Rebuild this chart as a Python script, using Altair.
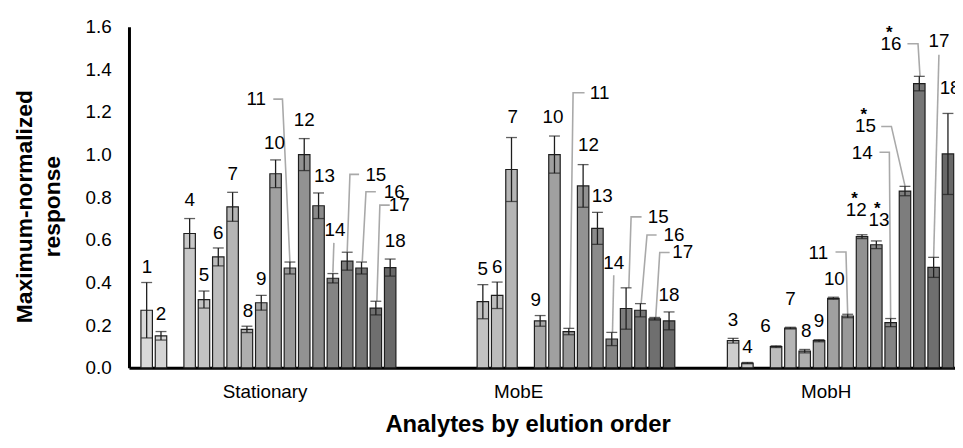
import altair as alt
import pandas as pd

# ---------------- data ----------------
GROUPS = ["Stationary", "MobE", "MobH"]
ANALYTES = list(range(1, 19))

STAT_VALS = [0.27, 0.15, None, 0.63, 0.32, 0.52, 0.755, 0.18, 0.305, 0.91, 0.468, 1.00, 0.76, 0.42, 0.50, 0.468, 0.28, 0.47]
STAT_ERRS = [0.13, 0.02, None, 0.07, 0.04, 0.042, 0.068, 0.015, 0.035, 0.065, 0.028, 0.075, 0.06, 0.022, 0.042, 0.028, 0.032, 0.04]

MOBE_VALS = [None, None, None, None, 0.31, 0.34, 0.93, None, 0.22, 1.00, 0.17, 0.853, 0.654, 0.135, 0.278, 0.27, 0.23, 0.22]
MOBE_ERRS = [None, None, None, None, 0.08, 0.062, 0.15, None, 0.025, 0.087, 0.015, 0.10, 0.075, 0.031, 0.097, 0.031, 0.006, 0.042]

MOBH_VALS = [None, None, 0.127, 0.022, None, 0.099, 0.186, 0.078, 0.127, 0.326, 0.243, 0.615, 0.577, 0.212, 0.829, 1.333, 0.471, 1.003]
MOBH_ERRS = [None, None, 0.011, 0.003, None, 0.004, 0.004, 0.008, 0.005, 0.005, 0.008, 0.009, 0.018, 0.019, 0.022, 0.034, 0.047, 0.19]

SERIES = [(STAT_VALS, STAT_ERRS), (MOBE_VALS, MOBE_ERRS), (MOBH_VALS, MOBH_ERRS)]

# bar labels: (group index, analyte, dx in bar slots, label height, asterisk)
LABELS = [
    (0, 1, 0.03, 0.474, False), (0, 2, 0.0, 0.251, False), (0, 4, 0.0, 0.786, False),
    (0, 5, 0.0, 0.437, False), (0, 6, 0.0, 0.633, False), (0, 7, 0.0, 0.907, False),
    (0, 8, 0.07, 0.265, False), (0, 9, 0.0, 0.414, False), (0, 10, -0.07, 1.056, False),
    (0, 11, -2.35, 1.26, False), (0, 12, 0.0, 1.163, False), (0, 13, 0.41, 0.898, False),
    (0, 14, 0.14, 0.647, False), (0, 15, 2.0, 0.902, False), (0, 16, 2.28, 0.823, False),
    (0, 17, 1.64, 0.763, False), (0, 18, 0.35, 0.595, False),
    (1, 5, 0.0, 0.464, False), (1, 6, 0.0, 0.471, False), (1, 7, 0.09, 1.177, False),
    (1, 9, -0.31, 0.316, False), (1, 10, -0.1, 1.178, False), (1, 11, 2.15, 1.287, False),
    (1, 12, 0.37, 1.045, False), (1, 13, 0.33, 0.806, False), (1, 14, 0.14, 0.492, False),
    (1, 15, 2.24, 0.708, False), (1, 16, 2.35, 0.623, False), (1, 17, 1.96, 0.541, False),
    (1, 18, 0.0, 0.341, False),
    (2, 3, 0.0, 0.223, False), (2, 4, 0.0, 0.096, False), (2, 6, -0.74, 0.197, False),
    (2, 7, 0.0, 0.321, False), (2, 8, 0.1, 0.171, False), (2, 9, 0.0, 0.22, False),
    (2, 10, 0.07, 0.417, False), (2, 11, -2.05, 0.538, False), (2, 12, -0.4, 0.74, True),
    (2, 13, 0.18, 0.693, True), (2, 14, -1.99, 1.006, False), (2, 15, -2.75, 1.132, True),
    (2, 16, -1.98, 1.52, True), (2, 17, 0.37, 1.533, False), (2, 18, 0.15, 1.313, False),
]

# leader lines for callout labels: (group index, analyte, [(dx, height), ...])
LEADERS = [
    (0, 11, [(-1.16, 1.26), (-0.52, 1.26), (0.0, 0.496)]),
    (0, 14, [(0.07, 0.586), (0.0, 0.447)]),
    (0, 15, [(0.83, 0.907), (0.19, 0.907), (0.0, 0.544)]),
    (0, 16, [(1.0, 0.826), (0.31, 0.826), (0.05, 0.498)]),
    (0, 17, [(0.97, 0.763), (0.28, 0.763), (0.07, 0.313)]),
    (1, 11, [(1.1, 1.29), (0.3, 1.29), (0.07, 0.185)]),
    (1, 14, [(0.14, 0.434), (0.05, 0.166)]),
    (1, 15, [(1.08, 0.708), (0.35, 0.708), (0.19, 0.375)]),
    (1, 16, [(1.13, 0.623), (0.46, 0.623), (0.05, 0.30)]),
    (1, 17, [(1.04, 0.541), (0.35, 0.541), (0.07, 0.236)]),
    (2, 11, [(-0.85, 0.543), (-0.12, 0.543), (0.0, 0.251)]),
    (2, 14, [(-0.78, 1.011), (-0.09, 1.011), (0.0, 0.231)]),
    (2, 15, [(-1.66, 1.132), (-0.95, 1.132), (0.0, 0.853)]),
    (2, 16, [(-0.83, 1.52), (-0.09, 1.52), (0.05, 1.367)]),
    (2, 17, [(0.37, 1.468), (0.0, 0.518)]),
]

Y_TICKS = [0.0, 0.2, 0.4, 0.6, 0.8, 1.0, 1.2, 1.4, 1.6]
CAT_SHIFT = [-0.23, -2.0, 0.0]   # category label nudges (bar slots)

# ---------------- styles / layout ----------------
GRAYS = ["#d9d9d9", "#d4d4d4", "#cecece", "#c8c8c8", "#c2c2c2", "#bcbcbc", "#b5b5b5",
         "#aeaeae", "#a7a7a7", "#a0a0a0", "#999999", "#929292", "#8b8b8b", "#848484",
         "#7d7d7d", "#767676", "#6f6f6f", "#686868"]
FONT = "Liberation Sans"
G = 19.47          # group pitch in bar slots
BW = 0.8           # bar width in slots
W, H = 833, 344
XMAX = W / 14.445
INK = "#1e1e1e"


def slot(gi, k):
    return gi * G + G / 2 + (k - 9.5)


rows = []
for gi, (vals, errs) in enumerate(SERIES):
    for k, v, e in zip(ANALYTES, vals, errs):
        if v is None:
            continue
        u = slot(gi, k)
        rows.append(dict(group=GROUPS[gi], analyte=k, value=v, lo=v - e, hi=v + e,
                         u=u, x0=u - BW / 2, x1=u + BW / 2, zero=0.0))
bars_df = pd.DataFrame(rows)

lab_rows, star_rows = [], []
for gi, k, dx, yv, star in LABELS:
    x = slot(gi, k) + dx
    lab_rows.append(dict(x=x, y=yv, text=str(k)))
    if star:
        star_rows.append(dict(x=x - 0.12, y=yv, text="*"))
lab_df = pd.DataFrame(lab_rows)
star_df = pd.DataFrame(star_rows)

line_rows = []
for li, (gi, k, pts) in enumerate(LEADERS):
    for oi, (dx, yv) in enumerate(pts):
        line_rows.append(dict(lid=li, o=oi, x=slot(gi, k) + dx, y=yv))
line_df = pd.DataFrame(line_rows)

cat_df = pd.DataFrame({"x": [slot(i, 9.5) + CAT_SHIFT[i] for i in range(3)], "text": GROUPS})

xscale = alt.Scale(domain=[0, XMAX], nice=False, zero=False)
yscale = alt.Scale(domain=[0, 1.6], nice=False)

x_axis = alt.Axis(labels=False, ticks=False, grid=False, domainColor="black", domainWidth=3,
                  title="Analytes by elution order", titleFont=FONT, titleFontSize=24,
                  titleFontWeight="bold", titleColor="black", titleX=402, titleY=57,
                  titleAlign="center", titleBaseline="middle")
y_axis = alt.Axis(values=Y_TICKS, format=".1f", ticks=False, grid=False, domainColor="black",
                  domainWidth=3, labelFont=FONT, labelFontSize=19, labelColor="black",
                  labelPadding=18,
                  title=["Maximum-normalized", "response"], titleFont=FONT, titleFontSize=23,
                  titleFontWeight="bold", titleColor="black", titleAngle=270,
                  titleX=-105, titleY=181, titleAlign="center", titleBaseline="middle",
                  titleLineHeight=28)


def X(field):
    return alt.X(field, scale=xscale, axis=x_axis)


def Y(field):
    return alt.Y(field, scale=yscale, axis=y_axis)


bars = alt.Chart(bars_df).mark_bar(stroke=INK, strokeWidth=1.2).encode(
    x=X("x0:Q"), x2="x1:Q",
    y=Y("value:Q"), y2="zero:Q",
    color=alt.Color("analyte:O", scale=alt.Scale(domain=ANALYTES, range=GRAYS), legend=None),
)

leaders = alt.Chart(line_df).mark_line(color="#a9a9a9", strokeWidth=1.6).encode(
    x=X("x:Q"), y=Y("y:Q"), detail="lid:N", order="o:Q",
)

err = alt.Chart(bars_df).mark_rule(color=INK, strokeWidth=1.3).encode(
    x=X("u:Q"), y=Y("lo:Q"), y2="hi:Q",
)
cap_hi = alt.Chart(bars_df).mark_tick(orient="horizontal", size=11, thickness=1.3, color=INK).encode(
    x=X("u:Q"), y=Y("hi:Q"),
)
cap_lo = alt.Chart(bars_df).mark_tick(orient="horizontal", size=11, thickness=1.3, color=INK).encode(
    x=X("u:Q"), y=Y("lo:Q"),
)

labels = alt.Chart(lab_df).mark_text(font=FONT, fontSize=19, color="black", baseline="middle").encode(
    x=X("x:Q"), y=Y("y:Q"), text="text:N",
)
stars = alt.Chart(star_df).mark_text(font=FONT, fontSize=17, fontWeight="bold", color="black",
                                     baseline="middle", dy=-11).encode(
    x=X("x:Q"), y=Y("y:Q"), text="text:N",
)
cats = alt.Chart(cat_df).mark_text(font=FONT, fontSize=19, color="black", baseline="middle").encode(
    x=X("x:Q"), y=alt.value(H + 24), text="text:N",
)

chart = alt.layer(bars, leaders, err, cap_hi, cap_lo, labels, stars, cats).properties(
    width=W, height=H,
    autosize=alt.AutoSizeParams(type="none"),
    padding={"left": 122, "top": 17, "right": 0, "bottom": 71},
    background="white",
).configure_view(stroke=None)

chart.save("out.html", embed_options={"renderer": "svg", "actions": False})
